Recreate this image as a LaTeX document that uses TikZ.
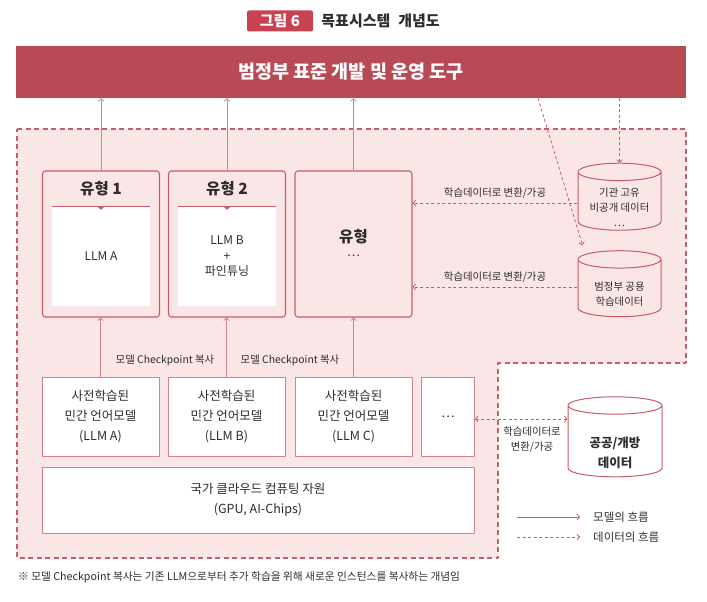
\documentclass[tikz,border=0pt]{standalone}
\usepackage{fontspec}
\setmainfont{Noto Sans CJK KR}
\usetikzlibrary{calc,arrows.meta,positioning,shapes.geometric}
\definecolor{bannerred}{RGB}{184,74,86}
\definecolor{titlered}{RGB}{200,66,80}
\definecolor{boxred}{RGB}{198,92,104}
\definecolor{lightred}{RGB}{214,130,138}
\definecolor{dashred}{RGB}{200,92,104}
\definecolor{pinkbg}{RGB}{251,230,231}
\definecolor{textgray}{RGB}{45,45,45}

\begin{document}
\begin{tikzpicture}[x=1pt,y=-1pt,>={Straight Barb[length=2.5pt,width=5.5pt]},line join=round,
    txt/.style={text=textgray,inner sep=1pt},
    smalltxt/.style={txt,font=\fontsize{10.4}{15}\selectfont},
    typetitle/.style={txt,font=\fontsize{15.5}{18}\selectfont\bfseries},
    typebox/.style={draw=boxred,line width=1.1pt,rounded corners=3pt,fill=pinkbg,minimum width=117pt,minimum height=146pt},
    llmbox/.style={fill=white,minimum width=98pt,minimum height=99pt,align=center,text=textgray,font=\fontsize{12}{15.5}\selectfont},
    prebox/.style={draw=lightred,line width=0.8pt,fill=white,minimum height=79pt,align=center,text=textgray,font=\fontsize{12.5}{20}\selectfont},
    db/.style={cylinder,shape border rotate=90,aspect=2.6,draw=boxred,line width=1pt,minimum width=83pt,minimum height=67pt},
    mflow/.style={->,draw=lightred,line width=0.8pt},
    dflow/.style={->,draw=dashred,line width=0.8pt,dash pattern=on 3pt off 2.5pt}]
  \useasboundingbox (0,0) rectangle (707,602);
  \fill[white] (0,0) rectangle (707,602);
  \draw[fill=pinkbg,draw=dashred,line width=1.2pt,dash pattern=on 5pt off 3.5pt]
    (17,129) -- (686,129) -- (686,363) -- (498,363) -- (498,558) -- (17,558) -- cycle;

  \node[fill=titlered,rounded corners=2pt,text=white,font=\fontsize{15}{15}\selectfont\bfseries,
    minimum width=66pt,minimum height=21pt,inner sep=0pt] (fignum) at (280,21) {그림 6};
  \node[right=7pt of fignum,typetitle,font=\fontsize{15}{18}\selectfont\bfseries] (figtitle) {목표시스템\hspace{0.3em} 개념도};

  \node[fill=bannerred,minimum width=670pt,minimum height=52pt,text=white,
    font=\fontsize{18.5}{18.5}\selectfont\bfseries] (tool) at (351,72) {범정부 표준 개발 및 운영 도구};

  \node[typebox] (t1) at (101,244) {};
  \node[typebox] (t2) at (227,244) {};
  \node[typebox] (t3) at (353.5,244) {};
  \node[typetitle] (t1lbl) at (101,189) {유형 1};
  \node[typetitle] (t2lbl) at (227,189) {유형 2};
  \node[typetitle] (t3lbl) at (353.5,237) {유형};
  \node[txt,font=\fontsize{12}{14}\selectfont] (t3dots) at (353.5,256) {…};
  \node[llmbox] (w1) at (101,256.5) {LLM A};
  \node[llmbox] (w2) at (227,256.5) {LLM B\\+\\파인튜닝};
  \foreach \w in {w1,w2} {
    \draw[boxred,line width=0.8pt] (\w.north west) -- (\w.north east);
    \fill[boxred] ($(\w.north)+(-3,0)$) -- ($(\w.north)+(3,0)$) -- ($(\w.north)+(0,3)$) -- cycle;
  }

  \node[prebox,minimum width=117pt] (p1) at (100.5,416.5) {사전학습된\\민간 언어모델\\(LLM A)};
  \node[prebox,minimum width=117pt] (p2) at (226.5,416.5) {사전학습된\\민간 언어모델\\(LLM B)};
  \node[prebox,minimum width=117pt] (p3) at (353.5,416.5) {사전학습된\\민간 언어모델\\(LLM C)};
  \node[prebox,minimum width=53pt] (p4) at (448,416.5) {…};
  \node[prebox,minimum width=432pt,minimum height=66pt] (cloud) at (258,500) {국가 클라우드 컴퓨팅 자원\\(GPU, AI-Chips)};

  \foreach \i in {1,2,3} {
    \draw[mflow] (p\i.north) -- (p\i.north |- t\i.south);
    \draw[mflow] (t\i.north) -- (t\i.north |- tool.south);
  }
  \node[smalltxt] (cp1) at (165,360) {모델 Checkpoint 복사};
  \node[smalltxt] (cp2) at (290,360) {모델 Checkpoint 복사};

  \node[db,fill=pinkbg] (inst) at (619.5,203) {};
  \node[smalltxt,align=center] (instlbl) at (619.5,207) {기관 고유\\비공개 데이터\\…};
  \node[db,fill=pinkbg,minimum height=66pt] (share) at (619.5,290) {};
  \node[smalltxt,align=center] (sharelbl) at (619.5,294.5) {범정부 공용\\학습데이터};
  \node[db,fill=white,minimum width=94pt,minimum height=80pt] (open) at (615,443) {};
  \node[txt,align=center,font=\fontsize{12.5}{20}\selectfont\bfseries] (openlbl) at (615,453) {공공/개방\\데이터};

  \draw[dflow] (inst.west) -- (inst.west -| t3.east)
    node[midway,above=3pt,smalltxt] (conv1) {학습데이터로 변환/가공};
  \draw[dflow] ([yshift=3pt]share.west) -- ([yshift=3pt]share.west -| t3.east)
    node[midway,above=3pt,smalltxt] (conv2) {학습데이터로 변환/가공};
  \draw[dflow] (tool.south -| inst.north) -- (inst.north);
  \draw[dflow] ([xshift=187pt]tool.south) -- ([xshift=-37pt,yshift=5pt]share.north);
  \draw[dflow,<->] ([yshift=-2.5pt]p4.east) -- ([yshift=-2.5pt]p4.east -| open.west);
  \node[smalltxt,align=center] (conv3) at (532,440) {학습데이터로\\변환/가공};

  \coordinate (lgm0) at (517,517);
  \coordinate (lgd0) at (517,537);
  \node[txt,anchor=west,font=\fontsize{11.5}{12}\selectfont] (lgm) at (592,517) {모델의 흐름};
  \node[txt,anchor=west,font=\fontsize{11.5}{12}\selectfont] (lgd) at (592,537) {데이터의 흐름};
  \draw[mflow,draw=boxred] (lgm0) -- ([xshift=-12pt]lgm.west);
  \draw[dflow] (lgd0) -- ([xshift=-12pt]lgd.west);

  \node[txt,anchor=west,font=\fontsize{10.7}{12}\selectfont] (note) at (17,577) {※ 모델 Checkpoint 복사는 기존 LLM으로부터 추가 학습을 위해 새로운 인스턴스를 복사하는 개념임};
\end{tikzpicture}
\end{document}
